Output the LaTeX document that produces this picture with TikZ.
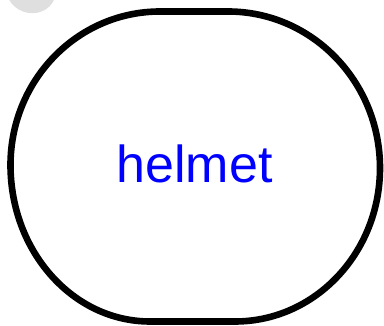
\documentclass[tikz,border=0pt]{standalone}
\usepackage{fontspec}
\setmainfont{Liberation Sans}
\usepackage{tikz}

\begin{document}
\begin{tikzpicture}[x=1pt, y=1pt,
  outline/.style={draw=black, line width=6.6pt, fill=white},
  label/.style={font=\fontsize{52}{60}\selectfont, text=blue}
]
\useasboundingbox (0,0) rectangle (384,326);

%% ── faint blob, top left ──
\begin{scope}
  \clip (0,0) rectangle (384,326);
  \fill[gray!25] (31,336) ellipse [x radius=25pt, y radius=23pt, rotate=-20];
\end{scope}

%% ── main shape ──
\draw[outline] (160,314.5) -- (228,314.5)
  arc[start angle=90, end angle=0, x radius=152, y radius=156.5]
  arc[start angle=0, end angle=-90, x radius=145, y radius=153.5]
  -- (150,4.5)
  arc[start angle=-90, end angle=-180, x radius=139.5, y radius=156.5]
  arc[start angle=180, end angle=90, x radius=149.5, y radius=153.5]
  -- cycle;

\node[label] (helmet) at (194.5,162.5) {helmet};

\end{tikzpicture}
\end{document}
